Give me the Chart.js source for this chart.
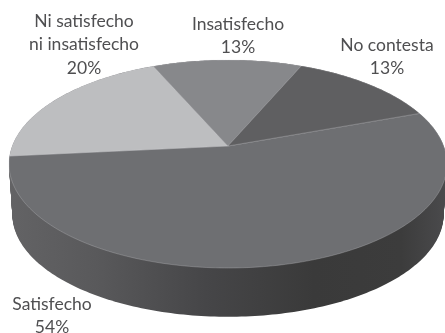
<!DOCTYPE html>
<html><head><meta charset="utf-8">
<style>html,body{margin:0;padding:0;background:#fff}canvas{display:block;filter:blur(0.5px)}</style>
<script src="https://cdn.jsdelivr.net/npm/chart.js@4"></script>
</head><body>
<canvas id="c" width="445" height="333"></canvas>
<script>
const categories = ["Satisfecho", "Ni satisfecho ni insatisfecho", "Insatisfecho", "No contesta"];
const values = [54, 20, 13, 13];
const percentLabels = ["54%", "20%", "13%", "13%"];
const labelLines = [["Satisfecho"], ["Ni satisfecho", "ni insatisfecho"], ["Insatisfecho"], ["No contesta"]];
const sliceColors = ["#6e6f72", "#bdbec0", "#87888b", "#5f5f61"];
const firstSliceAngle = 70;

const G = {cx:228, cy:146, A:215.7, B:100.9, k:0.173, depth:51, bottomScale:0.985};
const LABEL_POS = [[52,304],[84,21],[238,24],[387,45]];
const LINE_H = 23.5;

function project(theta, s, dy){
  const a = theta + Math.PI/2, u = Math.sin(a)*s, v = Math.cos(a)*s;
  const w = 1 + G.k*v;
  return [G.cx + G.A*u/w, G.cy - G.B*v/w + dy];
}
function disc(ctx, s, dy){
  ctx.beginPath();
  for(let i=0;i<=360;i++){
    const p = project(i*Math.PI/180, s, dy);
    i ? ctx.lineTo(p[0],p[1]) : ctx.moveTo(p[0],p[1]);
  }
  ctx.closePath();
}
const pie3d = {
  id:'pie3d',
  beforeDatasetsDraw(chart){
    const ctx = chart.ctx;
    const meta = chart.getDatasetMeta(0);
    ctx.save();
    const g = ctx.createLinearGradient(9,0,445,0);
    g.addColorStop(0,'#636365');
    g.addColorStop(0.2,'#59595b');
    g.addColorStop(0.45,'#464648');
    g.addColorStop(0.7,'#3a3a3a');
    g.addColorStop(0.9,'#3c3c3c');
    g.addColorStop(1,'#4a4a4c');
    ctx.fillStyle = g;
    for(let d=G.depth;d>=0;d-=1){
      const s = 1 - (1-G.bottomScale)*d/G.depth;
      disc(ctx,s,d); ctx.fill();
    }
    meta.data.forEach((arc,i)=>{
      ctx.beginPath();
      ctx.moveTo(G.cx,G.cy);
      const n = 200;
      for(let j=0;j<=n;j++){
        const t = arc.startAngle + (arc.endAngle-arc.startAngle)*j/n;
        const p = project(t,1,0);
        ctx.lineTo(p[0],p[1]);
      }
      ctx.closePath();
      ctx.fillStyle = arc.options.backgroundColor;
      ctx.fill();
      ctx.strokeStyle = 'rgba(215,215,218,0.45)';
      ctx.lineWidth = 0.6;
      ctx.stroke();
    });
    ctx.font = '17.5px Lato';
    ctx.fillStyle = '#4f4f51';
    ctx.textAlign = 'center';
    ctx.textBaseline = 'middle';
    labelLines.forEach((lines,i)=>{
      const all = lines.concat(percentLabels[i]);
      all.forEach((t,j)=>ctx.fillText(t, LABEL_POS[i][0], LABEL_POS[i][1]+j*LINE_H));
    });
    ctx.restore();
    return false;
  }
};
new Chart(document.getElementById('c'),{
  type:'pie',
  data:{labels:categories,datasets:[{data:values,backgroundColor:sliceColors}]},
  options:{
    responsive:false,animation:false,rotation:firstSliceAngle,
    plugins:{legend:{display:false},title:{display:false},tooltip:{enabled:false}}
  },
  plugins:[pie3d]
});
</script>
</body></html>
